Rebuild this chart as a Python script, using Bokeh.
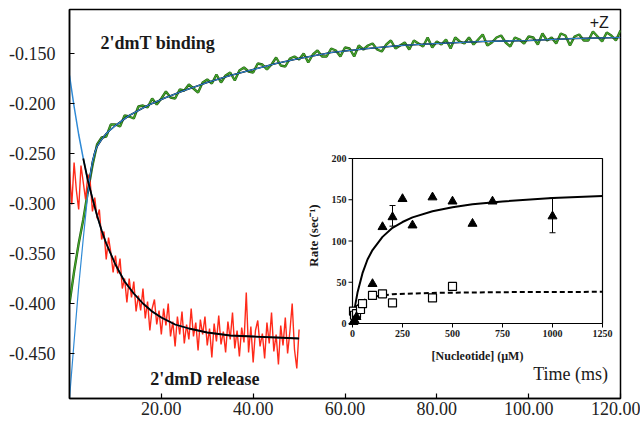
import numpy as np
from bokeh.plotting import figure
from bokeh.models import Range1d, FixedTicker, PrintfTickFormatter, Label
from bokeh.core.properties import value
from bokeh.embed import file_html
from bokeh.resources import INLINE

# ---------------- data: main panel ----------------
# 2'dmT binding trace (sampled every 1 ms from 0 to 120 ms)
green_step = 1.0
green_y = [-0.400, -0.368, -0.340, -0.316, -0.288, -0.262, -0.241,
           -0.234, -0.233, -0.221, -0.221, -0.223, -0.212, -0.213, -0.215, -0.203, -0.202,
           -0.204, -0.195, -0.201, -0.195, -0.188, -0.194, -0.195, -0.186, -0.187, -0.181,
           -0.185, -0.189, -0.179, -0.176, -0.180, -0.171, -0.179, -0.172, -0.169, -0.177,
           -0.167, -0.164, -0.168, -0.169, -0.160, -0.161, -0.166, -0.161, -0.154, -0.162,
           -0.163, -0.155, -0.153, -0.156, -0.150, -0.159, -0.151, -0.147, -0.153, -0.153,
           -0.145, -0.147, -0.153, -0.144, -0.145, -0.153, -0.142, -0.146, -0.142, -0.140,
           -0.146, -0.148, -0.141, -0.137, -0.145, -0.142, -0.139, -0.146, -0.137, -0.140,
           -0.143, -0.134, -0.144, -0.138, -0.141, -0.136, -0.145, -0.134, -0.138, -0.140,
           -0.134, -0.141, -0.136, -0.131, -0.142, -0.139, -0.134, -0.132, -0.139, -0.143,
           -0.134, -0.136, -0.140, -0.133, -0.134, -0.141, -0.130, -0.137, -0.134, -0.140,
           -0.130, -0.132, -0.142, -0.133, -0.131, -0.137, -0.137, -0.128, -0.133, -0.138,
           -0.129, -0.132, -0.137, -0.127]
green_t = np.arange(len(green_y)) * green_step

# 2'dmD release trace (sampled every 0.5 ms from 0 to 50 ms)
red_step = 0.5
red_y = [-0.268, -0.301, -0.259, -0.287, -0.306, -0.262, -0.279, -0.296, -0.271,
         -0.278, -0.308, -0.294, -0.315, -0.306, -0.336, -0.328, -0.356, -0.334, -0.349,
         -0.369, -0.352, -0.370, -0.355, -0.385, -0.375, -0.399, -0.375, -0.394, -0.378,
         -0.408, -0.392, -0.407, -0.385, -0.415, -0.398, -0.427, -0.405, -0.396, -0.421,
         -0.407, -0.431, -0.405, -0.422, -0.400, -0.433, -0.418, -0.443, -0.413, -0.431,
         -0.408, -0.440, -0.421, -0.436, -0.405, -0.433, -0.419, -0.447, -0.416, -0.431,
         -0.413, -0.442, -0.425, -0.454, -0.420, -0.438, -0.412, -0.441, -0.428, -0.449,
         -0.418, -0.436, -0.409, -0.445, -0.427, -0.453, -0.424, -0.439, -0.389, -0.449,
         -0.423, -0.459, -0.427, -0.417, -0.443, -0.430, -0.455, -0.419, -0.440, -0.409,
         -0.448, -0.431, -0.461, -0.422, -0.442, -0.414, -0.450, -0.428, -0.400, -0.446,
         -0.465, -0.426]
red_t = np.arange(len(red_y)) * red_step

# fitted curves
gfit_t = [0, 1, 2, 3, 4, 4.5, 5, 5.5, 6, 7, 8, 10, 13, 17, 21, 25, 30, 35, 40, 45, 50,
          57, 65, 72, 80, 90, 100, 110, 120]
gfit_y = [-0.495, -0.438, -0.383, -0.335, -0.290, -0.272, -0.258, -0.249, -0.243, -0.236,
          -0.230, -0.222, -0.212, -0.202, -0.194, -0.187, -0.179, -0.172, -0.166, -0.160,
          -0.155, -0.149, -0.145, -0.142, -0.140, -0.138, -0.137, -0.135, -0.134]
rfit_t = [0, 1, 2, 3, 4, 5, 6, 7, 8, 10, 12, 14, 16, 18, 20, 23, 26, 30, 35, 40, 45, 50]
rfit_y = [-0.172, -0.203, -0.231, -0.255, -0.277, -0.295, -0.312, -0.327, -0.340, -0.361,
          -0.378, -0.390, -0.400, -0.408, -0.414, -0.421, -0.425, -0.429, -0.432, -0.433,
          -0.434, -0.435]

x_ticks = [20, 40, 60, 80, 100, 120]
y_ticks = [-0.450, -0.400, -0.350, -0.300, -0.250, -0.200, -0.150]

# ---------------- data: inset ----------------
tri_x = [5, 10, 20, 100, 150, 200, 250, 300, 400, 500, 600, 700, 1000]
tri_y = [2, 4, 8, 48, 117, 129, 151, 119, 153, 148, 121, 148, 130]
sq_x = [5, 10, 20, 40, 50, 100, 150, 200, 400, 500]
sq_y = [15, 10, 12, 17, 24, 34, 36, 25, 31, 45]
err_x = [200, 1000]
err_lo = [118, 110]
err_hi = [143, 152]
solid_x = [0, 10, 25, 50, 75, 100, 150, 200, 250, 300, 400, 500, 600, 750, 1000, 1250]
solid_y = [0, 17.4, 37.5, 61, 77.6, 89, 105, 116, 123, 128.6, 136, 141, 144.5, 148, 152, 154.5]
dash_x = [0, 10, 25, 50, 100, 200, 400, 750, 1250]
dash_y = [0, 13, 21.7, 27.9, 32.5, 35.5, 37.1, 38.0, 38.4]
ins_x_ticks = [0, 250, 500, 750, 1000, 1250]
ins_y_ticks = [0, 50, 100, 150, 200]

SERIF = "Liberation Serif"

# ---------------- layout ----------------
W, H = 640, 420
FL, FR, FT, FB = 69, 620, 9, 398          # frame edges in page pixels
BL, BR, BT, BB = FL, W - FR, FT, H - FB
IL, IR, IT, IB = 352, 602, 158, 323       # inset box in page pixels
IXMAX, IYMAX = 1250, 200

p = figure(width=W, height=H, output_backend="svg", toolbar_location=None,
           x_range=Range1d(0, 120), y_range=Range1d(-0.495, -0.106),
           min_border_left=BL, min_border_right=BR, min_border_top=BT, min_border_bottom=BB)
p.grid.visible = False
p.outline_line_color = "black"
p.outline_line_width = 1.5
p.outline_line_alpha = 1.0
p.background_fill_color = "white"
p.border_fill_color = "white"

for ax in (p.xaxis[0], p.yaxis[0]):
    ax.axis_line_color = "black"
    ax.axis_line_width = 1.5
    ax.major_tick_in = 5
    ax.major_tick_out = 0
    ax.major_tick_line_color = "black"
    ax.major_tick_line_width = 1.2
    ax.minor_tick_line_color = None
    ax.major_label_text_font = SERIF
    ax.major_label_text_font_size = "18px"
    ax.major_label_text_color = "#222222"

p.xaxis[0].ticker = FixedTicker(ticks=x_ticks)
p.xaxis[0].formatter = PrintfTickFormatter(format="%.2f")
p.xaxis[0].major_label_standoff = 3
p.yaxis[0].ticker = FixedTicker(ticks=y_ticks)
p.yaxis[0].formatter = PrintfTickFormatter(format="%.3f")
p.yaxis[0].major_label_standoff = 14

# main traces
p.line(green_t, green_y, line_color="#245f14", line_width=2.4)
p.line(green_t, green_y, line_color="#44a82c", line_width=1.2)
p.line(red_t, red_y, line_color="#ff2a1a", line_width=1.4)

p.line(gfit_t[4:], gfit_y[4:], line_color="black", line_width=1.6)
p.line(gfit_t, gfit_y, line_color="#2f8ad6", line_width=1.2)
p.line(rfit_t, rfit_y, line_color="#2f8ad6", line_width=1.5)
p.line(rfit_t[3:], rfit_y[3:], line_color="black", line_width=1.8)

# text labels (main), positioned in data coordinates
p.add_layout(Label(x=6.75, y=-0.139, text="2'dmT binding", text_font=SERIF,
                   text_font_style="bold", text_font_size="18px", text_baseline="middle",
                   text_color="#1a1a1a"))
p.add_layout(Label(x=17.6, y=-0.475, text="2'dmD release", text_font=SERIF,
                   text_font_style="bold", text_font_size="18px", text_baseline="middle",
                   text_color="#1a1a1a"))
p.add_layout(Label(x=113.3, y=-0.119, text="+Z", text_font="Liberation Sans",
                   text_font_size="16px", text_baseline="middle", text_color="#1a1a1a"))
p.add_layout(Label(x=101.0, y=-0.470, text="Time (ms)", text_font=SERIF,
                   text_font_size="18px", text_baseline="middle", text_color="#1a1a1a"))

# ---------------- inset via extra ranges ----------------
sx = (IR - IL) / IXMAX
sy = (IB - IT) / IYMAX
p.extra_x_ranges = {"ins": Range1d(-(IL - FL) / sx, (FR - IL) / sx)}
p.extra_y_ranges = {"ins": Range1d(-(FB - IB) / sy, (IB - FT) / sy)}
R = dict(x_range_name="ins", y_range_name="ins")

p.quad(left=[0], right=[IXMAX], bottom=[0], top=[IYMAX], fill_color="white",
       line_color="black", line_width=1.2, **R)

tick_len_x = 4 / sx
tick_len_y = 4 / sy
p.segment(x0=ins_x_ticks, y0=[0] * len(ins_x_ticks), x1=ins_x_ticks,
          y1=[-tick_len_y] * len(ins_x_ticks), line_color="black", line_width=1, **R)
p.segment(x0=[0] * len(ins_y_ticks), y0=ins_y_ticks, x1=[-tick_len_x] * len(ins_y_ticks),
          y1=ins_y_ticks, line_color="black", line_width=1, **R)
p.text(x=ins_x_ticks, y=[0] * len(ins_x_ticks), text=[str(t) for t in ins_x_ticks],
       text_font=value(SERIF), text_font_style="bold", text_font_size="10px",
       text_align="center", text_baseline="top", y_offset=6, text_color="#1a1a1a", **R)
p.text(x=[0] * len(ins_y_ticks), y=ins_y_ticks, text=[str(t) for t in ins_y_ticks],
       text_font=value(SERIF), text_font_style="bold", text_font_size="10px",
       text_align="right", text_baseline="middle", x_offset=-6, text_color="#1a1a1a", **R)

p.add_layout(Label(x=-(IL - 313) / sx, y=(IB - 235) / sy, text="Rate (sec\u207b\u00b9)",
                   angle=np.pi / 2, text_font=SERIF, text_font_style="bold",
                   text_font_size="13px", text_align="center", text_baseline="middle",
                   text_color="#1a1a1a", **R))
p.add_layout(Label(x=(477 - IL) / sx, y=-(355 - IB) / sy, text="[Nucleotide] (\u00b5M)",
                   text_font=SERIF, text_font_style="bold", text_font_size="12px",
                   text_align="center", text_baseline="middle", text_color="#1a1a1a", **R))

# fits
p.line(solid_x, solid_y, line_color="black", line_width=2, **R)
p.line(dash_x, dash_y, line_color="black", line_width=2, line_dash="5 3", **R)

# error bars
cap = 3 / sx
p.segment(x0=err_x, y0=err_lo, x1=err_x, y1=err_hi, line_color="black", line_width=1, **R)
p.segment(x0=[x - cap for x in err_x], y0=err_hi, x1=[x + cap for x in err_x], y1=err_hi,
          line_color="black", line_width=1, **R)
p.segment(x0=[x - cap for x in err_x], y0=err_lo, x1=[x + cap for x in err_x], y1=err_lo,
          line_color="black", line_width=1, **R)

# points
p.scatter(sq_x, sq_y, marker="square", size=8, fill_color="white", line_color="black",
          line_width=1.2, **R)
p.scatter(tri_x, tri_y, marker="triangle", size=9, fill_color="black", line_color="black", **R)

open("out.html", "w").write(file_html(p, INLINE))
